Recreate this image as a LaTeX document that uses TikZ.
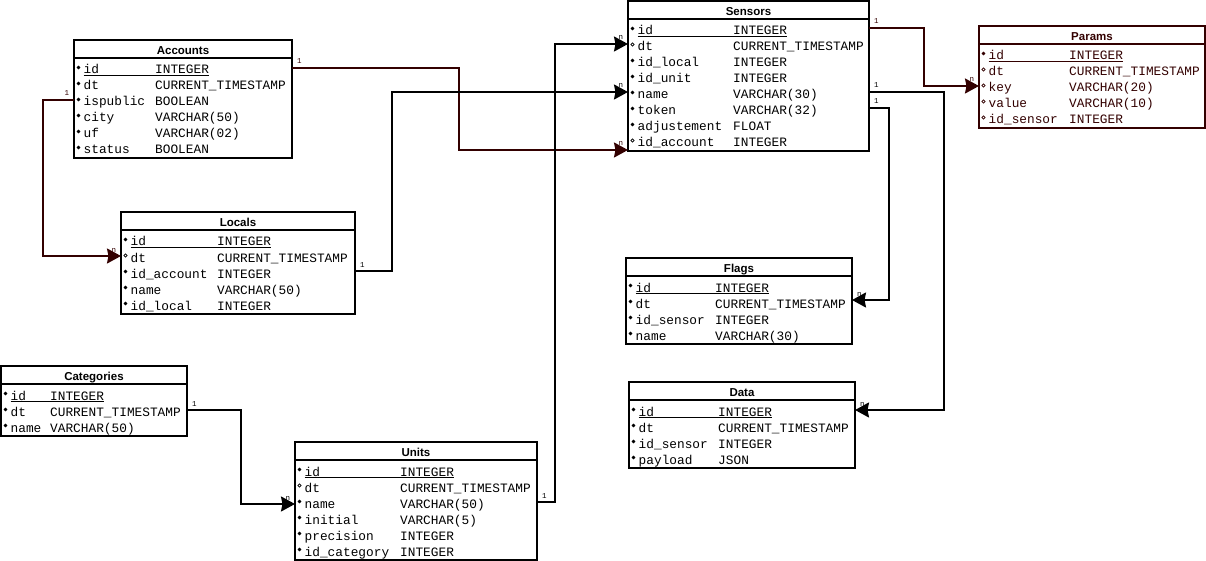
\documentclass[tikz,border=0pt]{standalone}
\usepackage{fontspec}
\setmainfont{Liberation Sans}
\setsansfont{Liberation Sans}
\setmonofont{Liberation Mono}
\usetikzlibrary{calc,arrows.meta}
\definecolor{fkred}{HTML}{330000}
\tikzset{
  tablebox/.style={draw, line width=2pt, rectangle, inner sep=0pt, outer sep=0pt, fill=white},
  tabletitle/.style={font=\fontsize{11.5}{12}\selectfont\sffamily\bfseries, inner sep=0pt, anchor=base},
  fieldtext/.style={font=\fontsize{12.8}{14}\selectfont\ttfamily, inner sep=0pt, anchor=base west},
  keydot-b/.style={fill},
  keydot-o/.style={fill=white, line width=0.8pt},
  card/.style={font=\fontsize{7.5}{7.5}\selectfont\ttfamily, inner sep=0pt},
  rel/.style={line width=2pt, -{Stealth[length=14pt,width=15pt,inset=1.5pt]}},
}
% #1 name, #2 left, #3 top, #4 width, #5 number of fields,
% #6 offset of the type column, #7 title, #8 fields (marker/name/type)
\newcommand\dbtable[8]{%
  \node[tablebox, minimum width=#4pt, minimum height=22pt+16pt*#5, anchor=north west] (#1) at (#2,#3) {};
  \node[tabletitle] (#1-title) at ($(#1.north west)+(#4/2,14.5)$) {#7};
  \draw[line width=2pt] ($(#1.north west)+(0,18)$) -- ($(#1.north east)+(0,18)$);
  \foreach \fk/\fn/\ft [count=\fidx from 0] in {#8} {
    \pgfmathsetmacro\ry{#3+30+16*\fidx}
    \draw[keydot-\fk] (#2+4.5,\ry-2.5) circle[radius=1.6pt];
    \node[fieldtext] (#1-n\fidx) at (#2+9.5,\ry+4) {\fn};
    \node[fieldtext] (#1-t\fidx) at (#2+#6,\ry+4) {\ft};
  }
  \draw[line width=0.9pt] ($(#1-n0.base west)+(0,1.5)$) -- ($(#1-t0.base east)+(0,1.5)$);
}
\begin{document}
\begin{tikzpicture}[x=1pt,y=-1pt]
\useasboundingbox (0,0) rectangle (1206,561);
\fill[white] (0,0) rectangle (1206,561);

% tables
\dbtable{accounts}{74}{40}{218}{6}{81}{Accounts}{%
  b/id/INTEGER, b/dt/CURRENT\_TIMESTAMP, b/ispublic/BOOLEAN,
  b/city/VARCHAR(50), b/uf/VARCHAR(02), b/status/BOOLEAN}
\dbtable{sensors}{628}{1}{241}{8}{105}{Sensors}{%
  b/id/INTEGER, o/dt/CURRENT\_TIMESTAMP, b/id\_local/INTEGER,
  b/id\_unit/INTEGER, b/name/VARCHAR(30), b/token/VARCHAR(32),
  b/adjustement/FLOAT, o/id\_account/INTEGER}
\begin{scope}[color=fkred]
\dbtable{params}{979}{26}{226}{5}{90}{Params}{%
  b/id/INTEGER, o/dt/CURRENT\_TIMESTAMP, o/key/VARCHAR(20),
  o/value/VARCHAR(10), o/id\_sensor/INTEGER}
\end{scope}
\dbtable{locals}{121}{212}{234}{5}{96}{Locals}{%
  b/id/INTEGER, o/dt/CURRENT\_TIMESTAMP, b/id\_account/INTEGER,
  b/name/VARCHAR(50), b/id\_local/INTEGER}
\dbtable{categories}{1}{366}{186}{3}{49}{Categories}{%
  b/id/INTEGER, b/dt/CURRENT\_TIMESTAMP, b/name/VARCHAR(50)}
\dbtable{units}{295}{442}{242}{6}{105}{Units}{%
  b/id/INTEGER, o/dt/CURRENT\_TIMESTAMP, b/name/VARCHAR(50),
  b/initial/VARCHAR(5), b/precision/INTEGER, b/id\_category/INTEGER}
\dbtable{flags}{626}{258}{226}{4}{89}{Flags}{%
  b/id/INTEGER, b/dt/CURRENT\_TIMESTAMP, b/id\_sensor/INTEGER,
  b/name/VARCHAR(30)}
\dbtable{data}{629}{382}{226}{4}{89}{Data}{%
  b/id/INTEGER, b/dt/CURRENT\_TIMESTAMP, b/id\_sensor/INTEGER,
  b/payload/JSON}

% connector end points on the table borders
\coordinate (acc-loc-s) at ($(accounts.north west)+(0,60)$);
\coordinate (acc-loc-e) at ($(locals.north west)+(0,44)$);
\coordinate (acc-sen-s) at ($(accounts.north east)+(0,28)$);
\coordinate (acc-sen-e) at ($(sensors.south west)+(0,-1)$);
\coordinate (loc-sen-s) at ($(locals.north east)+(0,59)$);
\coordinate (loc-sen-e) at ($(sensors.north west)+(0,91)$);
\coordinate (uni-sen-s) at ($(units.north east)+(0,60)$);
\coordinate (uni-sen-e) at ($(sensors.north west)+(0,43)$);
\coordinate (cat-uni-s) at ($(categories.north east)+(0,44)$);
\coordinate (cat-uni-e) at ($(units.north west)+(0,62)$);
\coordinate (sen-par-s) at ($(sensors.north east)+(0,27)$);
\coordinate (sen-par-e) at ($(params.north west)+(0,60)$);
\coordinate (sen-dat-s) at ($(sensors.north east)+(0,91)$);
\coordinate (sen-dat-e) at ($(data.north east)+(0,28)$);
\coordinate (sen-fla-s) at ($(sensors.north east)+(0,107)$);
\coordinate (sen-fla-e) at ($(flags.north east)+(0,42)$);

% relations
\draw[rel, fkred] (acc-loc-s) node[card, anchor=south east, xshift=-4pt, yshift=3pt] (acc-loc-1) {1}
  -- ++(-31,0) |- (acc-loc-e) node[card, anchor=south east, xshift=-4pt, yshift=3pt] (acc-loc-n) {n};
\draw[rel, fkred] (acc-sen-s) node[card, anchor=south west, xshift=4pt, yshift=3pt] (acc-sen-1) {1}
  -- ++(167,0) |- (acc-sen-e) node[card, anchor=south east, xshift=-4pt, yshift=3pt] (acc-sen-n) {n};
\draw[rel] (loc-sen-s) node[card, anchor=south west, xshift=4pt, yshift=3pt] (loc-sen-1) {1}
  -- ++(37,0) |- (loc-sen-e) node[card, anchor=south east, xshift=-4pt, yshift=3pt] (loc-sen-n) {n};
\draw[rel] (uni-sen-s) node[card, anchor=south west, xshift=4pt, yshift=3pt] (uni-sen-1) {1}
  -- ++(18,0) |- (uni-sen-e) node[card, anchor=south east, xshift=-4pt, yshift=3pt] (uni-sen-n) {n};
\draw[rel] (cat-uni-s) node[card, anchor=south west, xshift=4pt, yshift=3pt] (cat-uni-1) {1}
  -- ++(54,0) |- (cat-uni-e) node[card, anchor=south east, xshift=-4pt, yshift=3pt] (cat-uni-n) {n};
\draw[rel, fkred] (sen-par-s) node[card, anchor=south west, xshift=4pt, yshift=3pt] (sen-par-1) {1}
  -- ++(55,0) |- (sen-par-e) node[card, anchor=south east, xshift=-4pt, yshift=3pt] (sen-par-n) {n};
\draw[rel] (sen-dat-s) node[card, anchor=south west, xshift=4pt, yshift=3pt] (sen-dat-1) {1}
  -- ++(75,0) |- (sen-dat-e) node[card, anchor=south west, xshift=4pt, yshift=3pt] (sen-dat-n) {n};
\draw[rel] (sen-fla-s) node[card, anchor=south west, xshift=4pt, yshift=3pt] (sen-fla-1) {1}
  -- ++(20,0) |- (sen-fla-e) node[card, anchor=south west, xshift=4pt, yshift=3pt] (sen-fla-n) {n};
\end{tikzpicture}
\end{document}
